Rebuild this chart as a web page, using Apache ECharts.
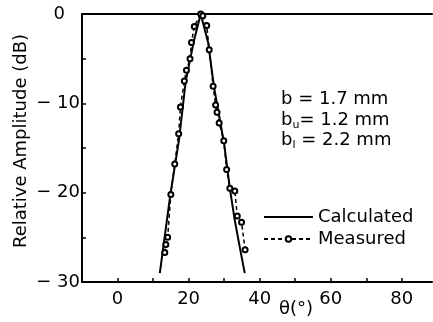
<!DOCTYPE html>
<html>
<head>
<meta charset="utf-8">
<script src="https://cdn.jsdelivr.net/npm/echarts@6/dist/echarts.min.js"></script>
<style>html,body{margin:0;padding:0;background:#fff;}#c{width:433px;height:322px;}</style>
</head>
<body>
<div id="c"></div>
<script>
// Data
var calcTheta = [11.9, 14.9, 17.3, 19.2, 21.5, 23.4, 25.5, 27.2, 30.0, 31.6, 33.0, 34.4, 35.8];
var calcDb    = [-29.0, -20.1, -14.1, -7.5, -3.0, 0.0, -3.2, -8.3, -14.5, -19.5, -23.1, -26.1, -29.0];

var measTheta = [13.3, 13.6, 14.1, 15.0, 16.1, 17.2, 17.7, 18.8, 19.4, 20.4, 20.8, 21.6, 23.4, 24.0, 25.1, 25.8, 26.9, 27.6, 28.0, 28.6, 29.9, 30.7, 31.6, 33.0, 33.7, 34.9, 35.9];
var measDb    = [-26.7, -25.8, -25.0, -20.2, -16.8, -13.4, -10.4, -7.5, -6.3, -5.0, -3.2, -1.4, 0.0, -0.2, -1.3, -4.0, -8.1, -10.2, -11.0, -12.2, -14.2, -17.4, -19.5, -19.8, -22.6, -23.3, -26.4];

var xTicks = [0, 20, 40, 60, 80];
var yTicks = [0, -10, -20, -30];
var legendNames = ['Calculated', 'Measured'];

function pairs(a, b) { return a.map(function (v, i) { return [v, b[i]]; }); }

var FONT = 'DejaVu Sans';
var chart = echarts.init(document.getElementById('c'), null, {renderer: 'canvas'});
chart.setOption({
  animation: false,
  backgroundColor: '#fff',
  grid: {left: 82, top: 14, right: 1, bottom: 40, containLabel: false},
  legend: {
    orient: 'vertical', left: 263, top: 208, padding: 0, itemWidth: 49, itemHeight: 7, itemGap: 4,
    data: [
      {name: legendNames[0], itemStyle: {color: 'rgba(0,0,0,0)', borderColor: 'rgba(0,0,0,0)', borderWidth: 0}},
      {name: legendNames[1]}
    ],
    textStyle: {fontFamily: FONT, fontSize: 18, color: '#000'}
  },
  xAxis: [{
    type: 'value', min: -10, max: 88.5, interval: 10, position: 'bottom',
    axisLine: {show: true, onZero: false, lineStyle: {color: '#000', width: 2}},
    axisTick: {show: true, inside: true, length: 4, lineStyle: {color: '#000', width: 1.5}},
    splitLine: {show: false},
    axisLabel: {
      fontFamily: FONT, fontSize: 18, color: '#000', margin: 8,
      showMaxLabel: false, showMinLabel: false,
      formatter: function (v) { return xTicks.indexOf(v) >= 0 ? String(v) : ''; }
    }
  }, {
    type: 'value', min: -10, max: 88.5, position: 'top',
    axisLine: {show: true, onZero: false, lineStyle: {color: '#000', width: 2}},
    axisTick: {show: false}, axisLabel: {show: false}, splitLine: {show: false}
  }],
  yAxis: {
    type: 'value', min: -30, max: 0, interval: 5,
    axisLine: {show: true, onZero: false, lineStyle: {color: '#000', width: 2}},
    axisTick: {show: true, inside: true, length: 4, lineStyle: {color: '#000', width: 1.5}},
    splitLine: {show: false},
    axisLabel: {
      fontFamily: FONT, fontSize: 18, color: '#000', margin: 2,
      formatter: function (v) {
        if (yTicks.indexOf(v) < 0) return '';
        if (v === 0) return '{z|0}';
        return '\u2212 ' + Math.abs(v);
      },
      rich: {z: {fontFamily: FONT, fontSize: 18, color: '#000', padding: [0, 15, 0, 0]}}
    }
  },
  graphic: [
    {type: 'text', x: 21, y: 141, rotation: Math.PI / 2,
     style: {text: 'Relative Amplitude (dB)', font: '18px "DejaVu Sans"', fill: '#000', align: 'center', verticalAlign: 'middle'}},
    {type: 'text', x: 296, y: 309,
     style: {text: 'θ(°)', font: '18px "DejaVu Sans"', fill: '#000', align: 'center', verticalAlign: 'middle'}},
    {type: 'text', x: 281, y: 99,
     style: {text: 'b = 1.7 mm', font: '18px "DejaVu Sans"', fill: '#000', align: 'left', verticalAlign: 'middle'}},
    {type: 'text', x: 281, y: 120,
     style: {text: '{n|b}{s|u}{n|= 1.2 mm}', align: 'left', verticalAlign: 'middle',
       rich: {n: {fontFamily: FONT, fontSize: 18, fill: '#000', lineHeight: 22, verticalAlign: 'middle'},
              s: {fontFamily: FONT, fontSize: 11, fill: '#000', lineHeight: 22, verticalAlign: 'bottom'}}}},
    {type: 'text', x: 281, y: 140,
     style: {text: '{n|b}{s|l}{n| = 2.2 mm}', align: 'left', verticalAlign: 'middle',
       rich: {n: {fontFamily: FONT, fontSize: 18, fill: '#000', lineHeight: 22, verticalAlign: 'middle'},
              s: {fontFamily: FONT, fontSize: 11, fill: '#000', lineHeight: 22, verticalAlign: 'bottom'}}}}
  ],
  series: [{
    name: 'Measured', type: 'line', data: pairs(measTheta, measDb),
    symbol: 'emptyCircle', symbolSize: 5, showSymbol: true,
    lineStyle: {color: '#000', width: 1.5, type: [4, 3]},
    itemStyle: {color: '#000', borderWidth: 1.3}, z: 3
  }, {
    name: 'Calculated', type: 'line', data: pairs(calcTheta, calcDb),
    symbol: 'none', showSymbol: false,
    lineStyle: {color: '#000', width: 2}, itemStyle: {color: '#000'}, z: 2
  }]
});
</script>
</body>
</html>
